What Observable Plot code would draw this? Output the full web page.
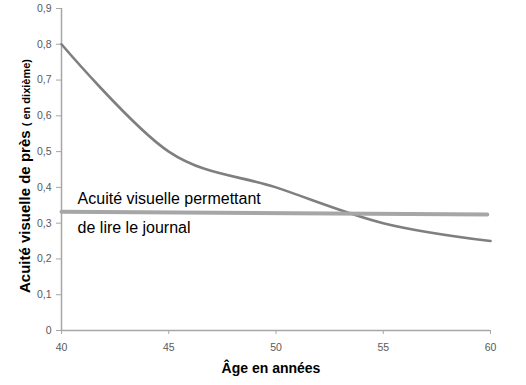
<!DOCTYPE html>
<html>
<head>
<meta charset="utf-8">
<script src="https://cdn.jsdelivr.net/npm/d3@7"></script>
<script src="https://cdn.jsdelivr.net/npm/@observablehq/plot@0.6"></script>
<style>
  html, body { margin: 0; padding: 0; background: #fff; }
  #chart { width: 526px; height: 385px; }
</style>
</head>
<body>
<div id="chart"></div>
<script>
const ages = [40, 45, 50, 55, 60];
const acuity = [0.8, 0.5, 0.4, 0.3, 0.25];
const thresholdAges = [40, 59.85];
const thresholdValues = [0.332, 0.324];
const xTicks = [40, 45, 50, 55, 60];
const yTicks = [0, 0.1, 0.2, 0.3, 0.4, 0.5, 0.6, 0.7, 0.8, 0.9];
const annotationLines = ["Acuité visuelle permettant", "de lire le journal"];
const xTitle = "Âge en années";
const yTitleMain = "Acuité visuelle de près";
const yTitleUnit = "( en dixième)";

const curveData = ages.map((a, i) => ({age: a, value: acuity[i]}));
const thresholdData = thresholdAges.map((a, i) => ({age: a, value: thresholdValues[i]}));
const fmt = d => d === 0 ? "0" : d.toFixed(1).replace(".", ",");

const axisGrey = "#a6a6a6";
const labelGrey = "#595959";

const chart = Plot.plot({
  width: 526,
  height: 385,
  marginLeft: 61,
  marginRight: 36,
  marginTop: 8,
  marginBottom: 55,
  style: {fontFamily: "'Liberation Sans', Arial, sans-serif", background: "#fff"},
  x: {domain: [40, 60]},
  y: {domain: [0, 0.9]},
  marks: [
    Plot.axisY({ticks: yTicks, tickFormat: fmt, tickSize: 5, tickPadding: 5, stroke: axisGrey, fill: labelGrey, fontSize: 10.5, label: null}),
    Plot.axisX({ticks: xTicks, tickFormat: d => String(d), tickSize: 4, tickPadding: 9, stroke: axisGrey, fill: labelGrey, fontSize: 10.5, label: null}),
    Plot.ruleX([40], {stroke: axisGrey, strokeWidth: 1.5}),
    Plot.ruleY([0], {stroke: axisGrey, strokeWidth: 1.5}),
    Plot.line(curveData, {x: "age", y: "value", curve: d3.curveCatmullRom.alpha(0), stroke: "#7f7f7f", strokeWidth: 2.6}),
    Plot.line(thresholdData, {x: "age", y: "value", stroke: "#a6a6a6", strokeWidth: 4}),
    Plot.text([annotationLines.join("\n")], {x: 40.75, y: 0.338, text: d => d, textAnchor: "start", lineAnchor: "middle", lineHeight: 1.8, fontSize: 16, fill: "#000"})
  ]
});

const svg = d3.select(chart);
svg.append("text")
  .attr("x", 271).attr("y", 373)
  .attr("text-anchor", "middle")
  .attr("font-size", 14).attr("font-weight", "bold").attr("fill", "#000")
  .text(xTitle);

const yt = svg.append("text")
  .attr("transform", "translate(30,293) rotate(-90)")
  .attr("text-anchor", "start")
  .attr("font-weight", "bold").attr("fill", "#000");
yt.append("tspan").attr("font-size", 15).text(yTitleMain + " ");
yt.append("tspan").attr("font-size", 11).text(yTitleUnit);

document.getElementById("chart").appendChild(chart);
</script>
</body>
</html>
